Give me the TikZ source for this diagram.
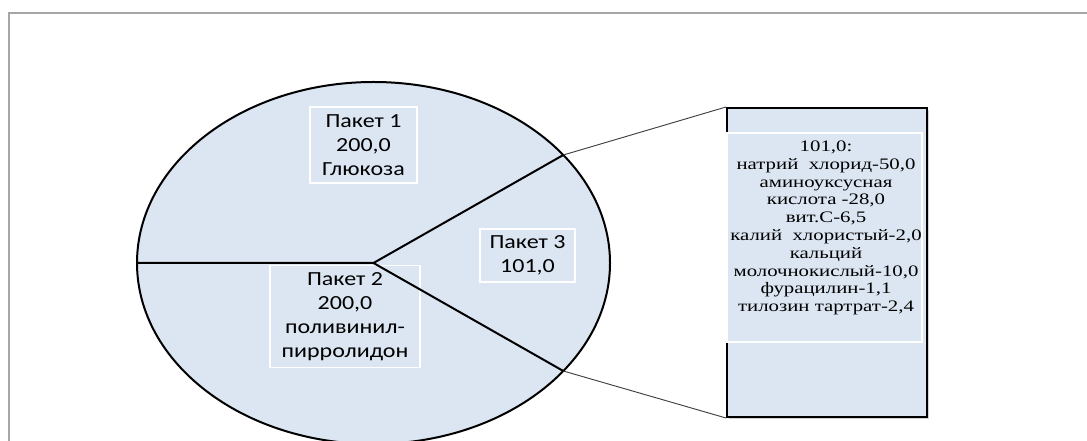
\documentclass[tikz,border=0pt]{standalone}
\usepackage{fontspec}
\newfontfamily\calib{Carlito}[FakeStretch=1.2]
\newfontfamily\tnr{Liberation Serif}[FakeStretch=1.3]
\usetikzlibrary{shadows}
\definecolor{pie}{HTML}{DCE6F2}
\definecolor{frame}{HTML}{A6A6A6}
\tikzset{
  x=0.75pt, y=-0.75pt,
  pieline/.style={line width=1.5pt, black},
  thinline/.style={line width=0.7pt, black!75},
  labelbox/.style={draw=white, line width=1pt, fill=pie, align=center, inner sep=0pt,
    font=\calib\fontsize{15}{18}\selectfont},
  listtext/.style={align=center, inner sep=0pt, font=\tnr\fontsize{12}{13.35}\selectfont}
}
\begin{document}
\begin{tikzpicture}
\useasboundingbox (0,0) rectangle (1087,441);
\clip (0,0) rectangle (1087,441);
\fill[white] (0,0) rectangle (1087,441);
% frame
\draw[frame, line width=1.1pt] (9,470) -- (9,13) -- (1100,13);
% pie
\coordinate (c) at (373.5,263);
\coordinate (l) at (137,263);
\coordinate (p1) at (563.3,155);
\coordinate (p2) at (563.3,371);
\draw[pieline, fill=pie] (c) ellipse [x radius=236.5, y radius=181];
% labels
\node[labelbox, minimum width=80.25pt, minimum height=57pt] (k1) at (363.5,145) {Пакет 1\\200,0\\Глюкоза};
\node[labelbox, minimum width=112.5pt, minimum height=76.5pt] (k2) at (345,316.5) {Пакет 2\\200,0\\поливинил-\\пирролидон};
\node[labelbox, minimum width=71.25pt, minimum height=39.75pt] (k3) at (527.5,255.5) {Пакет 3\\101,0};
% sector lines
\draw[pieline] (l) -- (c) -- (p1);
\draw[pieline] (c) -- (p2);
% detail box
\node[draw=black, line width=1.5pt, fill=pie, minimum width=150pt, minimum height=231.75pt, inner sep=0pt,
  drop shadow={shadow xshift=1.5pt, shadow yshift=-1.5pt, opacity=0.35}] (box) at (827,262.5) {};
\node[draw=white, line width=1pt, minimum width=146.25pt, minimum height=156.75pt, inner sep=0pt] (inner) at (824.5,237.5) {};
\node[listtext] (list) at (826,228) {101,0:\\натрий\ \ хлорид-50,0\\аминоуксусная\\кислота -28,0\\вит.С-6,5\\калий\ \ хлористый-2,0\\кальций\\молочнокислый-10,0\\фурацилин-1,1\\тилозин тартрат-2,4};
% connectors
\draw[thinline] (p1) -- (box.north west);
\draw[thinline] (p2) -- (box.south west);
\end{tikzpicture}
\end{document}
